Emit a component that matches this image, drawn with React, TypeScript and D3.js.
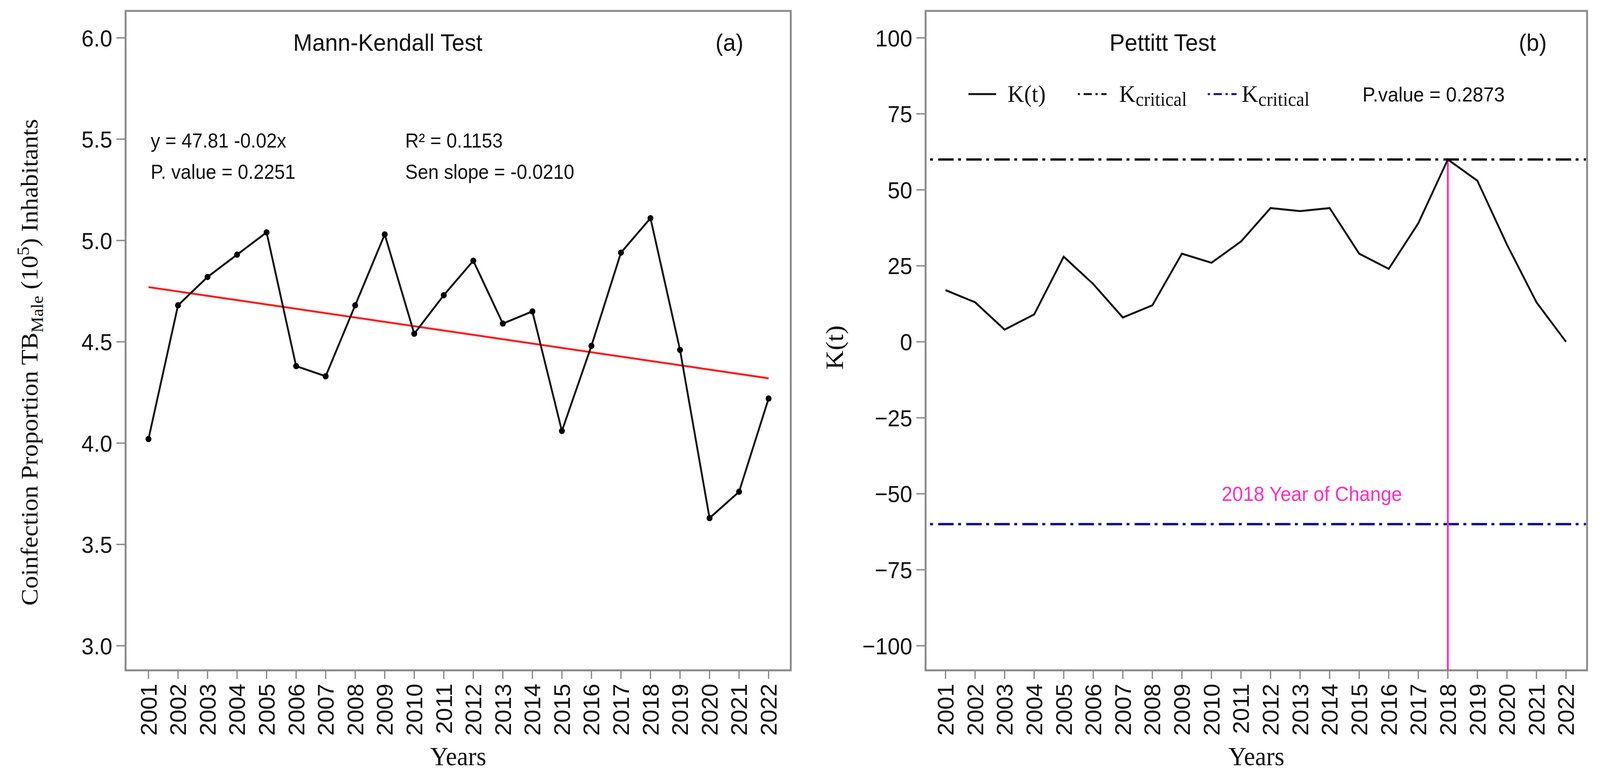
import * as d3 from "d3";

// years on the x axis (both panels)
const years = [2001, 2002, 2003, 2004, 2005, 2006, 2007, 2008, 2009, 2010, 2011, 2012, 2013, 2014, 2015, 2016, 2017, 2018, 2019, 2020, 2021, 2022];

// (a) coinfection proportion TB male per 10^5 inhabitants
const coinfection = [4.02, 4.68, 4.82, 4.93, 5.04, 4.38, 4.33, 4.68, 5.03, 4.54, 4.73, 4.9, 4.59, 4.65, 4.06, 4.48, 4.94, 5.11, 4.46, 3.63, 3.76, 4.22];
// fitted linear trend, value at first and last year
const trendEnds = [4.77, 4.32];

// (b) Pettitt statistic
const kt = [17, 13, 4, 9, 28, 19, 8, 12, 29, 26, 33, 44, 43, 44, 29, 24, 39, 60, 53, 32, 13, 0];
const kCritical = 60;
const changeYear = 2018;

const leftTicks = [3.0, 3.5, 4.0, 4.5, 5.0, 5.5, 6.0];
const rightTicks = [-100, -75, -50, -25, 0, 25, 50, 75, 100];

const W = 4332;
const H = 2003;
const SANS = "'Liberation Sans', Arial, Helvetica, sans-serif";
const SERIF = "'Liberation Serif', 'Times New Roman', serif";
const FRAME = "#8a8a8a";
const PINK = "#ff2ec0";
const NAVY = "#0a0a96";

const frameTop = 28;
const frameBottom = 1717;

const yL = d3.scaleLinear().domain([3, 6]).range([1654, 97]);
const yR = d3.scaleLinear().domain([-100, 100]).range([1654, 97]);
const xL = d3.scaleLinear().domain([2001, 2022]).range([402, 2081]);
const xR = d3.scaleLinear().domain([2001, 2022]).range([2560, 4240]);

const panelL = { x0: 340, x1: 2141 };
const panelR = { x0: 2506, x1: 4297 };

function Frame({ x0, x1 }: { x0: number; x1: number }) {
  return (
    <rect x={x0} y={frameTop} width={x1 - x0} height={frameBottom - frameTop}
      fill="none" stroke={FRAME} strokeWidth={5} />
  );
}

function XAxis({ x }: { x: d3.ScaleLinear<number, number> }) {
  return (
    <g>
      {years.map((yr) => (
        <g key={yr}>
          <line x1={x(yr)} x2={x(yr)} y1={frameBottom} y2={frameBottom + 22} stroke={FRAME} strokeWidth={3.5} />
          <text transform={`translate(${x(yr)},${frameBottom + 34}) rotate(-90)`} textAnchor="end" dy="0.36em"
            fontFamily={SANS} fontSize={60} fill="#111">{yr}</text>
        </g>
      ))}
    </g>
  );
}

function YAxis({ y, ticks, x0, fmt }: { y: d3.ScaleLinear<number, number>; ticks: number[]; x0: number; fmt: (v: number) => string }) {
  return (
    <g>
      {ticks.map((t) => (
        <g key={t}>
          <line x1={x0 - 25} x2={x0} y1={y(t)} y2={y(t)} stroke={FRAME} strokeWidth={3.5} />
          <text x={x0 - 36} y={y(t)} dy="0.36em" textAnchor="end" fontFamily={SANS} fontSize={60} fill="#111">{fmt(t)}</text>
        </g>
      ))}
    </g>
  );
}

export default function App() {
  const lineL = d3.line<number>().x((_, i) => xL(years[i])).y((d) => yL(d));
  const lineR = d3.line<number>().x((_, i) => xR(years[i])).y((d) => yR(d));
  const fmt1 = d3.format(".1f");
  const fmt0 = d3.format("d");
  const legendY = yR(81.5);

  return (
    <svg viewBox={`0 0 ${W} ${H}`} preserveAspectRatio="none"
      style={{ position: "fixed", left: 0, top: 0, width: "100vw", height: "100vh", background: "#fff", display: "block" }}>
      <rect width={W} height={H} fill="#fff" />

      {/* ---------- panel (a) ---------- */}
      <Frame {...panelL} />
      <YAxis y={yL} ticks={leftTicks} x0={panelL.x0} fmt={fmt1} />
      <XAxis x={xL} />

      <line x1={xL(years[0])} x2={xL(years[years.length - 1])} y1={yL(trendEnds[0])} y2={yL(trendEnds[1])}
        stroke="#ff1a1a" strokeWidth={5} />
      <path d={lineL(coinfection) ?? ""} fill="none" stroke="#111" strokeWidth={5} />
      {coinfection.map((v, i) => (
        <circle key={i} cx={xL(years[i])} cy={yL(v)} r={8} fill="#000" />
      ))}

      <text x={1050} y={130} textAnchor="middle" fontFamily={SANS} fontSize={62} fill="#111">Mann-Kendall Test</text>
      <text x={1975} y={130} textAnchor="middle" fontFamily={SANS} fontSize={62} fill="#111">(a)</text>

      <g fontFamily={SANS} fontSize={51} fill="#111">
        <text x={408} y={378}>y = 47.81 -0.02x</text>
        <text x={408} y={458}>P. value = 0.2251</text>
        <text x={1097} y={378}>R² = 0.1153</text>
        <text x={1097} y={458}>Sen slope = -0.0210</text>
      </g>

      <text transform={`translate(102,928) rotate(-90)`} textAnchor="middle" fontFamily={SERIF} fontSize={65} fill="#111">
        Coinfection Proportion TB
        <tspan dy={14} fontSize={46}>Male</tspan>
        <tspan dy={-14}> (10</tspan>
        <tspan dy={-24} fontSize={46}>5</tspan>
        <tspan dy={24}>) Inhabitants</tspan>
      </text>
      <text x={(panelL.x0 + panelL.x1) / 2} y={1960} textAnchor="middle" fontFamily={SERIF} fontSize={68} fill="#111">Years</text>

      {/* ---------- panel (b) ---------- */}
      <Frame {...panelR} />
      <YAxis y={yR} ticks={rightTicks} x0={panelR.x0} fmt={fmt0} />
      <XAxis x={xR} />

      <line x1={panelR.x0 + 12} x2={panelR.x1 - 3} y1={yR(kCritical)} y2={yR(kCritical)}
        stroke="#111" strokeWidth={6} strokeDasharray="8 14 42 12" />
      <line x1={panelR.x0 + 12} x2={panelR.x1 - 3} y1={yR(-kCritical)} y2={yR(-kCritical)}
        stroke={NAVY} strokeWidth={6} strokeDasharray="8 14 42 12" />
      <line x1={xR(changeYear)} x2={xR(changeYear)} y1={frameBottom} y2={yR(kCritical)} stroke={PINK} strokeWidth={5} />
      <path d={lineR(kt) ?? ""} fill="none" stroke="#111" strokeWidth={5} />

      <text x={xR(2013.4)} y={yR(-50)} dy="0.36em" textAnchor="middle" fontFamily={SANS} fontSize={52} fill={PINK}>2018 Year of Change</text>

      <text x={3148} y={130} textAnchor="middle" fontFamily={SANS} fontSize={62} fill="#111">Pettitt Test</text>
      <text x={4150} y={130} textAnchor="middle" fontFamily={SANS} fontSize={62} fill="#111">(b)</text>

      {/* legend */}
      <line x1={2622} x2={2697} y1={legendY} y2={legendY} stroke="#111" strokeWidth={5} />
      <text x={2728} y={legendY} dy="0.33em" fontFamily={SERIF} fontSize={62} fill="#111">K(t)</text>
      <line x1={2918} x2={2996} y1={legendY} y2={legendY} stroke="#111" strokeWidth={5} strokeDasharray="6 10 22 10" />
      <text x={3030} y={legendY} dy="0.33em" fontFamily={SERIF} fontSize={62} fill="#111">
        K<tspan dy={10} fontSize={50}>critical</tspan>
      </text>
      <line x1={3270} x2={3348} y1={legendY} y2={legendY} stroke={NAVY} strokeWidth={5} strokeDasharray="6 10 22 10" />
      <text x={3362} y={legendY} dy="0.33em" fontFamily={SERIF} fontSize={62} fill="#111">
        K<tspan dy={10} fontSize={50}>critical</tspan>
      </text>
      <text x={3689} y={legendY} dy="0.36em" fontFamily={SANS} fontSize={52} fill="#111">P.value = 0.2873</text>

      <text transform={`translate(2282,890) rotate(-90)`} textAnchor="middle" fontFamily={SERIF} fontSize={68} fill="#111">K(t)</text>
      <text x={(panelR.x0 + panelR.x1) / 2} y={1960} textAnchor="middle" fontFamily={SERIF} fontSize={68} fill="#111">Years</text>
    </svg>
  );
}
